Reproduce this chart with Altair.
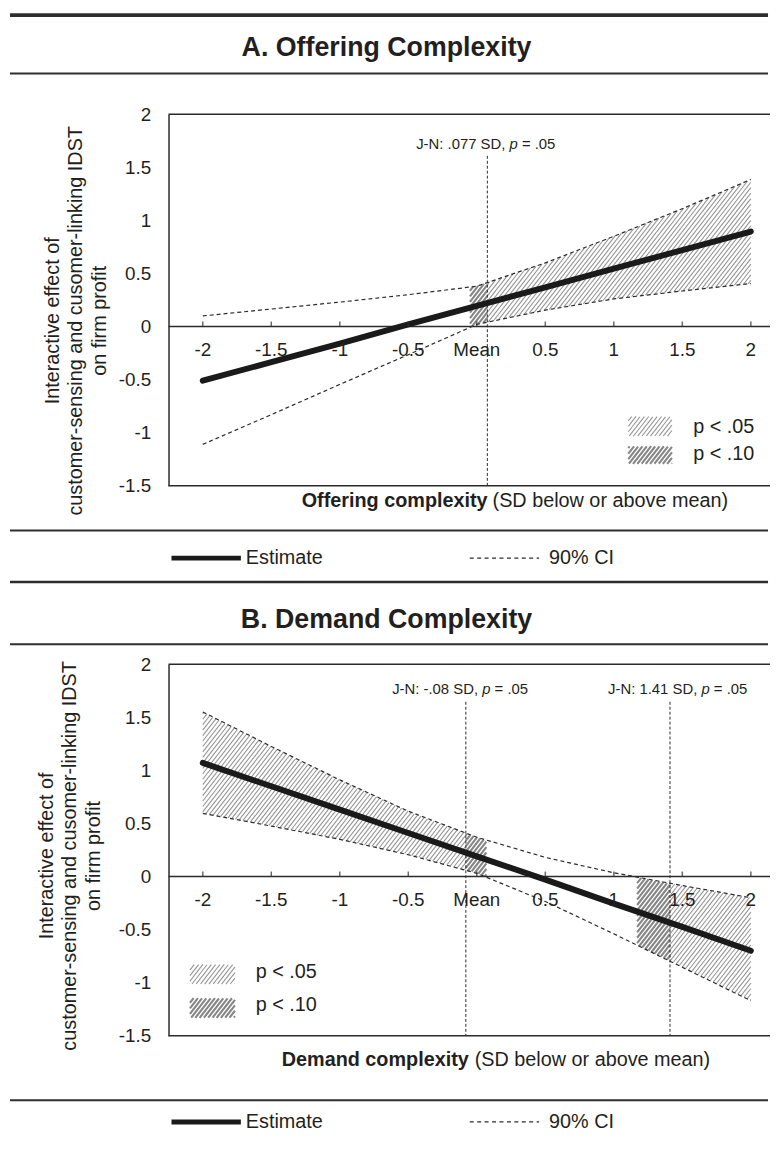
import altair as alt
import numpy as np
import pandas as pd

# ---------------- data ----------------
XS = [-2, -1.5, -1, -0.5, 0, 0.5, 1, 1.5, 2]
TICK_LABELS = ["-2", "-1.5", "-1", "-0.5", "Mean", "0.5", "1", "1.5", "2"]
Y_TICKS = [-1.5, -1, -0.5, 0, 0.5, 1, 1.5, 2]
Y_TITLE = ["Interactive effect of",
           "customer-sensing and cusomer-linking IDST",
           "on firm profit"]

A_TITLE = "A. Offering Complexity"
A_XBOLD = "Offering complexity"
A_XREST = "(SD below or above mean)"
A_EST = [-0.51, -0.335, -0.16, 0.02, 0.195, 0.37, 0.545, 0.72, 0.895]
A_UPPER = [0.10, 0.165, 0.23, 0.30, 0.38, 0.60, 0.85, 1.11, 1.385]
A_LOWER = [-1.11, -0.83, -0.545, -0.265, 0.02, 0.155, 0.26, 0.335, 0.405]
A_JN = [0.077]
A_JN_TEXT = ["J-N: .077 SD,"]
A_P05 = [(0.077, 2.0)]
A_P10 = [(-0.05, 0.077)]

B_TITLE = "B. Demand Complexity"
B_XBOLD = "Demand complexity"
B_XREST = "(SD below or above mean)"
B_EST = [1.07, 0.85, 0.63, 0.41, 0.19, -0.03, -0.255, -0.475, -0.70]
B_UPPER = [1.55, 1.225, 0.91, 0.615, 0.37, 0.18, 0.035, -0.085, -0.20]
B_LOWER = [0.595, 0.475, 0.35, 0.205, 0.03, -0.235, -0.54, -0.855, -1.17]
B_JN = [-0.08, 1.41]
B_JN_TEXT = ["J-N: -.08 SD,", "J-N: 1.41 SD,"]
B_P05 = [(-2.0, -0.08), (1.41, 2.0)]
B_P10 = [(-0.08, 0.07), (1.17, 1.41)]

LEGEND_LABELS = ["p < .05", "p < .10"]
LINE_LEGEND = ["Estimate", "90% CI"]
P_TEXT = "p"
P_VALUE_TEXT = "= .05"

# ---------------- layout / style ----------------
W, H = 607, 375
XMIN, XMAX = -2.25, 2.14
YMIN, YMAX = -1.5, 2.0
KX = W / (XMAX - XMIN)
KY = H / (YMAX - YMIN)
FONT = "Liberation Sans, Arial, Helvetica, sans-serif"
INK = "#231f20"
LINE = "#2b2b2b"
ONE = pd.DataFrame({"a": [0]})

HATCH = {
    "light": dict(step=4.3, color="#969696", width=1.1),
    "dark": dict(step=4.3, color="#858585", width=2.1),
}


def hatch_rows(x0, x1, lo, hi, kind, angle=52.0):
    """Diagonal hatch segments filling lo(x) <= y <= hi(x) for x0 <= x <= x1."""
    step = HATCH[kind]["step"]
    t = np.tan(np.radians(angle))
    n = max(int((x1 - x0) * KX * 3), 20)
    xs = np.linspace(x0, x1, n)
    X = (xs - XMIN) * KX
    Ylo = (lo(xs) - YMIN) * KY
    Yhi = (hi(xs) - YMIN) * KY
    cmin = np.min(X - Yhi / t)
    cmax = np.max(X - Ylo / t)
    rows = []
    for k in range(int(np.floor(cmin / step)), int(np.ceil(cmax / step)) + 1):
        c = k * step
        Yl = t * (X - c)
        idx = np.flatnonzero((Yl >= Ylo) & (Yl <= Yhi))
        if idx.size < 2:
            continue
        br = np.flatnonzero(np.diff(idx) > 1)
        starts = np.r_[idx[0], idx[br + 1]]
        ends = np.r_[idx[br], idx[-1]]
        for s, e in zip(starts, ends):
            if e <= s:
                continue
            rows.append(dict(x=xs[s], y=Yl[s] / KY + YMIN,
                             x2=xs[e], y2=Yl[e] / KY + YMIN))
    return rows


def px_x(p):
    return XMIN + p / KX


def px_y(p):
    return YMAX - p / KY


def panel(cfg):
    sx = alt.Scale(domain=[XMIN, XMAX], nice=False, zero=False)
    sy = alt.Scale(domain=[YMIN, YMAX], nice=False, zero=False)
    yaxis = alt.Axis(
        values=Y_TICKS, labelExpr="'' + datum.value", labelFontSize=19,
        labelFont=FONT, labelColor=INK, labelPadding=18, ticks=False,
        domain=True, domainColor=LINE, domainWidth=1.5, grid=False,
        labelFlush=False, labelOverlap=False, title=Y_TITLE, titleFont=FONT,
        titleFontSize=20, titleFontWeight="normal", titleColor=INK,
        titleAngle=270, titleAlign="center", titleBaseline="middle",
        titleLineHeight=23.5, titleX=cfg["ytitle_x"], titleY=cfg["ytitle_y"])

    def ex(f):
        return alt.X(f, type="quantitative", scale=sx, axis=None)

    def ey(f):
        return alt.Y(f, type="quantitative", scale=sy, axis=yaxis)

    lo_fn = lambda x: np.interp(x, XS, cfg["lower"])
    hi_fn = lambda x: np.interp(x, XS, cfg["upper"])

    rows = {"light": [], "dark": []}
    for (a, b) in cfg["p05"]:
        rows["light"] += hatch_rows(a, b, lo_fn, hi_fn, "light")
    for (a, b) in cfg["p10"]:
        rows["dark"] += hatch_rows(a, b, lo_fn, hi_fn, "dark")
    # legend swatches
    sx0, sx1 = cfg["swatch_x"]
    for kind, (ry0, ry1) in zip(["light", "dark"], cfg["swatch_rows"]):
        ylo, yhi = px_y(ry1), px_y(ry0)
        rows[kind] += hatch_rows(px_x(sx0), px_x(sx1),
                                 lambda x, v=ylo: np.full_like(x, v),
                                 lambda x, v=yhi: np.full_like(x, v), kind)

    layers = []
    for kind in ["light", "dark"]:
        st = HATCH[kind]
        layers.append(
            alt.Chart(pd.DataFrame(rows[kind], columns=["x", "y", "x2", "y2"]))
            .mark_rule(color=st["color"], strokeWidth=st["width"], strokeCap="butt")
            .encode(x=ex("x"), x2="x2:Q", y=ey("y"), y2="y2:Q"))

    # frame top/bottom and zero line
    layers.append(alt.Chart(pd.DataFrame({"y": [YMAX, 0, YMIN]}))
                  .mark_rule(color=LINE, strokeWidth=1.5)
                  .encode(y=ey("y")))

    df = pd.DataFrame({"x": XS, "est": cfg["est"], "up": cfg["upper"],
                       "lo": cfg["lower"], "zero": [0] * len(XS),
                       "label": TICK_LABELS})
    for f in ["up", "lo"]:
        layers.append(alt.Chart(df).mark_line(
            strokeDash=[4, 3], strokeWidth=1.2, color=LINE)
            .encode(x=ex("x"), y=ey(f)))

    # Johnson-Neyman lines
    layers.append(alt.Chart(pd.DataFrame({"x": cfg["jn"]}))
                  .mark_rule(strokeDash=[3, 2], strokeWidth=1, color=LINE)
                  .encode(x=ex("x"), y=alt.value(cfg["jn_top"]), y2=alt.value(H)))
    for v, txt, pdx in zip(cfg["jn"], cfg["jn_text"], cfg["jn_pdx"]):
        d = pd.DataFrame({"x": [v], "t": [txt]})
        common = dict(baseline="middle", fontSize=15, font=FONT, color=INK)
        layers.append(alt.Chart(d).mark_text(align="right", dx=pdx - 4.2, **common)
                      .encode(x=ex("x"), y=alt.value(cfg["jn_label_y"]), text="t:N"))
        layers.append(alt.Chart(d).mark_text(align="left", dx=pdx, fontStyle="italic",
                                             text=P_TEXT, **common)
                      .encode(x=ex("x"), y=alt.value(cfg["jn_label_y"])))
        layers.append(alt.Chart(d).mark_text(align="left", dx=pdx + 12.5,
                                             text=P_VALUE_TEXT, **common)
                      .encode(x=ex("x"), y=alt.value(cfg["jn_label_y"])))

    # estimate line
    layers.append(alt.Chart(df).mark_line(strokeWidth=6, color="#1a1a1a",
                                          strokeCap="round")
                  .encode(x=ex("x"), y=ey("est")))

    # x ticks and labels on the zero line
    layers.append(alt.Chart(df).mark_tick(orient="vertical", size=5, thickness=1.5,
                                          yOffset=-2.5, color=LINE)
                  .encode(x=ex("x"), y=ey("zero")))
    layers.append(alt.Chart(df).mark_text(dy=24, fontSize=19, font=FONT, color=INK,
                                          baseline="middle")
                  .encode(x=ex("x"), y=ey("zero"), text="label:N"))

    # in-plot legend labels
    for lab, ly in zip(LEGEND_LABELS, cfg["label_y"]):
        layers.append(alt.Chart(ONE).mark_text(text=lab, align="left", baseline="middle",
                                               fontSize=20, font=FONT, color=INK)
                      .encode(x=alt.value(cfg["label_x"]), y=alt.value(ly)))

    # horizontal separator rules
    for (yy, sw) in cfg["rules"]:
        layers.append(alt.Chart(ONE).mark_rule(strokeWidth=sw, color="#2e2e2e")
                      .encode(x=alt.value(-160), x2=alt.value(605), y=alt.value(yy)))

    # panel title
    layers.append(alt.Chart(ONE).mark_text(text=cfg["title"], fontSize=27,
                                           fontWeight="bold", font=FONT, color=INK,
                                           align="center", baseline="middle")
                  .encode(x=alt.value(220), y=alt.value(cfg["title_y"])))

    # x-axis title (bold + regular)
    xb, xr = cfg["xsplit"]
    layers.append(alt.Chart(ONE).mark_text(text=cfg["xbold"], fontSize=20,
                                           fontWeight="bold", font=FONT, color=INK,
                                           align="right", baseline="middle")
                  .encode(x=alt.value(xb), y=alt.value(cfg["xtitle_y"])))
    layers.append(alt.Chart(ONE).mark_text(text=cfg["xrest"], fontSize=20,
                                           font=FONT, color=INK,
                                           align="left", baseline="middle")
                  .encode(x=alt.value(xr), y=alt.value(cfg["xtitle_y"])))

    # line legend row
    ly = cfg["legend_row_y"]
    layers.append(alt.Chart(ONE).mark_rule(strokeWidth=5, color="#1a1a1a")
                  .encode(x=alt.value(3), x2=alt.value(73), y=alt.value(ly)))
    layers.append(alt.Chart(ONE).mark_text(text=LINE_LEGEND[0], fontSize=20, font=FONT,
                                           color=INK, align="left", baseline="middle")
                  .encode(x=alt.value(78), y=alt.value(ly)))
    layers.append(alt.Chart(ONE).mark_rule(strokeWidth=1.2, color=LINE,
                                           strokeDash=[4, 3.5])
                  .encode(x=alt.value(304), x2=alt.value(374), y=alt.value(ly)))
    layers.append(alt.Chart(ONE).mark_text(text=LINE_LEGEND[1], fontSize=20, font=FONT,
                                           color=INK, align="left", baseline="middle")
                  .encode(x=alt.value(384), y=alt.value(ly)))

    return alt.layer(*layers).properties(width=W, height=H)


cfg_a = dict(
    title=A_TITLE, xbold=A_XBOLD, xrest=A_XREST, est=A_EST, upper=A_UPPER,
    lower=A_LOWER, jn=A_JN, jn_text=A_JN_TEXT, jn_pdx=[22.35], p05=A_P05, p10=A_P10,
    title_y=-67, ytitle_x=-117, ytitle_y=208, jn_top=42, jn_label_y=30,
    rules=[(-100, 4), (-41, 2), (420, 2), (472, 2.5)],
    xtitle_y=390, xsplit=(322, 327), legend_row_y=448,
    swatch_x=(464, 508), swatch_rows=[(305, 325), (335, 353)],
    label_x=529.5, label_y=[316, 343])

cfg_b = dict(
    title=B_TITLE, xbold=B_XBOLD, xrest=B_XREST, est=B_EST, upper=B_UPPER,
    lower=B_LOWER, jn=B_JN, jn_text=B_JN_TEXT, jn_pdx=[16.5, 31.75], p05=B_P05,
    p10=B_P10, title_y=-44, ytitle_x=-123, ytitle_y=193, jn_top=38, jn_label_y=25,
    rules=[(-20, 2), (440, 2)],
    xtitle_y=400, xsplit=(303, 309), legend_row_y=462,
    swatch_x=(21.6, 67), swatch_rows=[(303, 323), (337, 357)],
    label_x=88, label_y=[311, 344])

chart = alt.vconcat(panel(cfg_a), panel(cfg_b), spacing=180, bounds="flush",
                    padding=0, background="white").configure_view(stroke=None)

chart.save("out.html", embed_options={"renderer": "svg", "actions": False})
